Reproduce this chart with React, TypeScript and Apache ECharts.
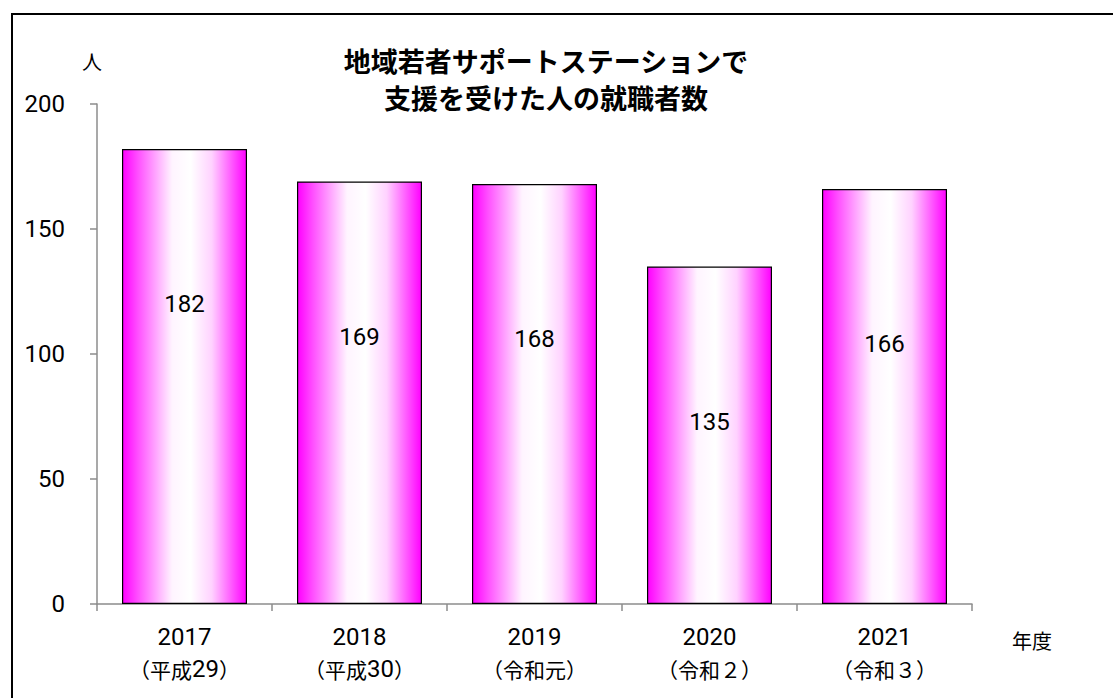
import React, { useEffect, useRef } from "react";
import * as echarts from "echarts";

const categories = ["2017", "2018", "2019", "2020", "2021"];
const eraLabels = ["（平成29）", "（平成30）", "（令和元）", "（令和２）", "（令和３）"];
const values = [182, 169, 168, 135, 166];
const yMin = 0;
const yMax = 200;
const yInterval = 50;
const titleText = "地域若者サポートステーションで\n支援を受けた人の就職者数";
const yUnit = "人";
const xUnit = "年度";

const NUM = 'Roboto, "Liberation Sans", sans-serif';
const JP = '"Noto Sans CJK JP", sans-serif';

function wrapEra(s: string): string {
  const parts = s.match(/[0-9]+|[^0-9]+/g) || [];
  return parts.map((p) => (/^[0-9]+$/.test(p) ? `{n|${p}}` : `{j|${p}}`)).join("");
}

export default function App() {
  const ref = useRef<HTMLDivElement>(null);
  useEffect(() => {
    if (!ref.current) return;
    const chart = echarts.init(ref.current, undefined, { renderer: "svg" });
    const gradient = new echarts.graphic.LinearGradient(0, 0, 1, 0, [
      { offset: 0, color: "#FF00FF" },
      { offset: 0.12, color: "#FF4DFF" },
      { offset: 0.4, color: "#FFF4FF" },
      { offset: 0.55, color: "#FFFFFF" },
      { offset: 0.72, color: "#FFD2FF" },
      { offset: 1, color: "#FF00FF" },
    ]);
    chart.setOption({
      animation: false,
      backgroundColor: "#fff",
      grid: { left: 97, top: 104, right: 141, bottom: 94, containLabel: false },
      xAxis: {
        type: "category",
        data: categories,
        axisLine: { lineStyle: { color: "#8c8c8c", width: 1.5 } },
        axisTick: { show: true, length: 7, lineStyle: { color: "#8c8c8c", width: 1.5 } },
        axisLabel: {
          margin: 17,
          color: "#000",
          formatter: (v: string, i: number) => `{n|${v}}\n${wrapEra(eraLabels[i])}`,
          rich: {
            n: { fontFamily: NUM, fontSize: 24, lineHeight: 32, color: "#000" },
            j: { fontFamily: JP, fontSize: 21, lineHeight: 32, color: "#000" },
          },
        },
      },
      yAxis: {
        type: "value",
        min: yMin,
        max: yMax,
        interval: yInterval,
        splitLine: { show: false },
        axisLine: { show: true, lineStyle: { color: "#8c8c8c", width: 1.5 } },
        axisTick: { show: true, length: 7, lineStyle: { color: "#8c8c8c", width: 1.5 } },
        axisLabel: { margin: 32, color: "#000", fontFamily: NUM, fontSize: 24 },
      },
      series: [
        {
          type: "bar",
          data: values,
          barWidth: 125,
          itemStyle: { color: gradient, borderColor: "#000", borderWidth: 1.2 },
          label: {
            show: true,
            position: ["50%", 155],
            align: "center",
            verticalAlign: "middle",
            color: "#000",
            fontFamily: NUM,
            fontSize: 24,
          },
        },
      ],
      graphic: [
        {
          type: "rect",
          shape: { x: 12, y: 14, width: 1200, height: 800 },
          style: { fill: "none", stroke: "#000", lineWidth: 2 },
          silent: true,
        },
        {
          type: "text",
          x: 546,
          y: 42,
          style: {
            text: titleText,
            fontFamily: JP,
            fontWeight: "bold",
            fontSize: 27,
            lineHeight: 37,
            textAlign: "center",
            verticalAlign: "top",
            fill: "#000",
          },
        },
        {
          type: "text",
          x: 92,
          y: 61,
          style: {
            text: yUnit,
            fontFamily: JP,
            fontSize: 20,
            textAlign: "center",
            verticalAlign: "middle",
            fill: "#000",
          },
        },
        {
          type: "text",
          x: 1012,
          y: 640,
          style: {
            text: xUnit,
            fontFamily: JP,
            fontSize: 20,
            textAlign: "left",
            verticalAlign: "middle",
            fill: "#000",
          },
        },
      ],
    });
    return () => chart.dispose();
  }, []);
  return (
    <div
      ref={ref}
      style={{ position: "fixed", left: 0, top: 0, width: 1113, height: 698, background: "#fff" }}
    />
  );
}
